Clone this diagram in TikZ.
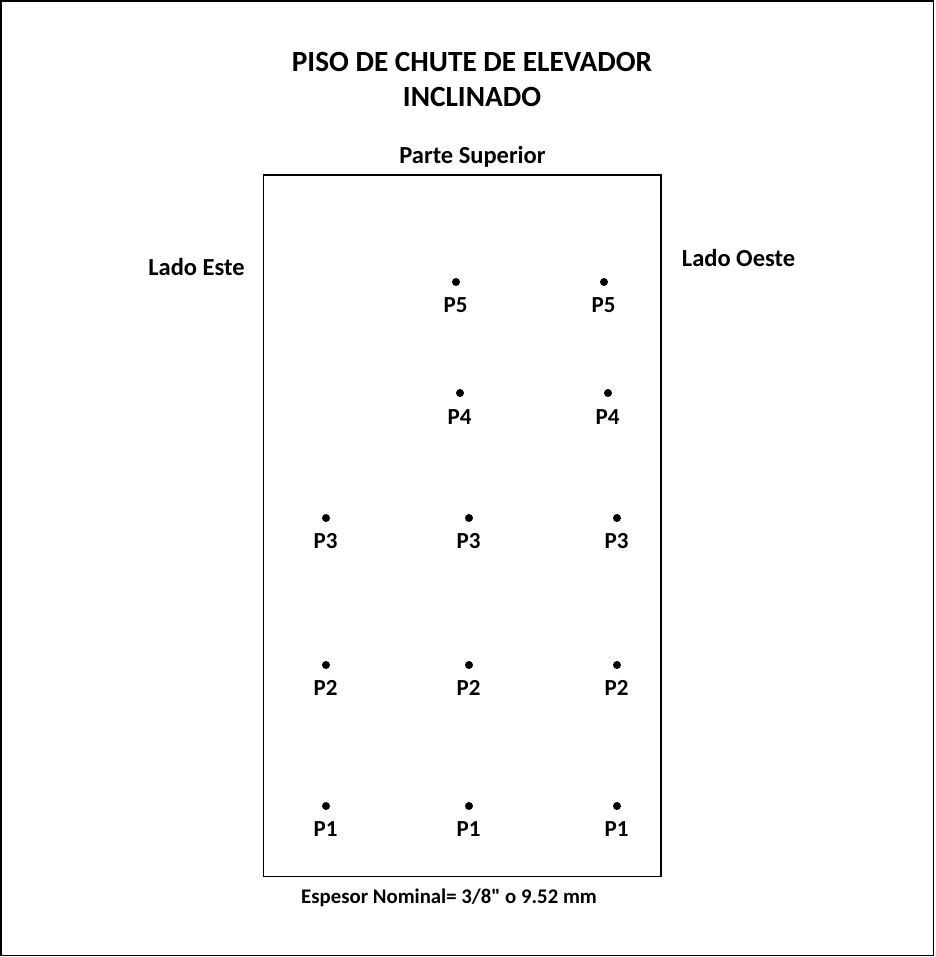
\documentclass[tikz,border=0pt]{standalone}
\usepackage{fontspec}
\setmainfont{Carlito}
\newfontfamily\straightq{Carlito}[Ligatures=TeXOff]
\begin{document}
\begin{tikzpicture}[x=1pt,y=-1pt,
  dot/.style={circle,fill=black,inner sep=0pt,minimum size=8pt},
  plabel/.style={font=\fontsize{23}{27}\selectfont\bfseries,inner sep=0pt},
  lbl/.style={font=\fontsize{24.5}{29}\selectfont\bfseries,inner sep=0pt},
  ttl/.style={font=\fontsize{29.3}{34}\selectfont\bfseries,inner sep=0pt}]
\useasboundingbox (0,0) rectangle (935,957);
\draw[line width=1.6pt] (1,0.8) rectangle (933.6,955.6);
\draw[line width=1.3pt] (263.5,175) rectangle (661,876.5);
\node[ttl] (t1) at (472,62) {PISO DE CHUTE DE ELEVADOR};
\node[ttl] (t2) at (472,97) {INCLINADO};
\node[lbl] (sup) at (472.5,157) {Parte Superior};
\node[lbl] (este) at (196.5,267) {Lado Este};
\node[lbl] (oeste) at (738.5,258) {Lado Oeste};
\node[font=\fontsize{20.8}{25}\selectfont\bfseries,inner sep=0pt] (esp) at (449,898) {Espesor Nominal= 3/8{\straightq\bfseries"} o 9.52 mm};
% P5
\node[dot] (d5a) at (456,282) {}; \node[plabel] (l5a) at (455.5,305) {P5};
\node[dot] (d5b) at (604,282) {}; \node[plabel] (l5b) at (603.5,305) {P5};
% P4
\node[dot] (d4a) at (460,393) {}; \node[plabel] (l4a) at (459.5,417) {P4};
\node[dot] (d4b) at (608,393) {}; \node[plabel] (l4b) at (607.5,417) {P4};
% P3
\node[dot] (d3a) at (326,518) {}; \node[plabel] (l3a) at (325.5,541) {P3};
\node[dot] (d3b) at (469,518) {}; \node[plabel] (l3b) at (468.5,541) {P3};
\node[dot] (d3c) at (617,518) {}; \node[plabel] (l3c) at (616.5,541) {P3};
% P2
\node[dot] (d2a) at (326,665) {}; \node[plabel] (l2a) at (325.5,688) {P2};
\node[dot] (d2b) at (469,665) {}; \node[plabel] (l2b) at (468.5,688) {P2};
\node[dot] (d2c) at (617,665) {}; \node[plabel] (l2c) at (616.5,688) {P2};
% P1
\node[dot] (d1a) at (326,806) {}; \node[plabel] (l1a) at (325.5,829) {P1};
\node[dot] (d1b) at (469,806) {}; \node[plabel] (l1b) at (468.5,829) {P1};
\node[dot] (d1c) at (617,806) {}; \node[plabel] (l1c) at (616.5,829) {P1};
\end{tikzpicture}
\end{document}
